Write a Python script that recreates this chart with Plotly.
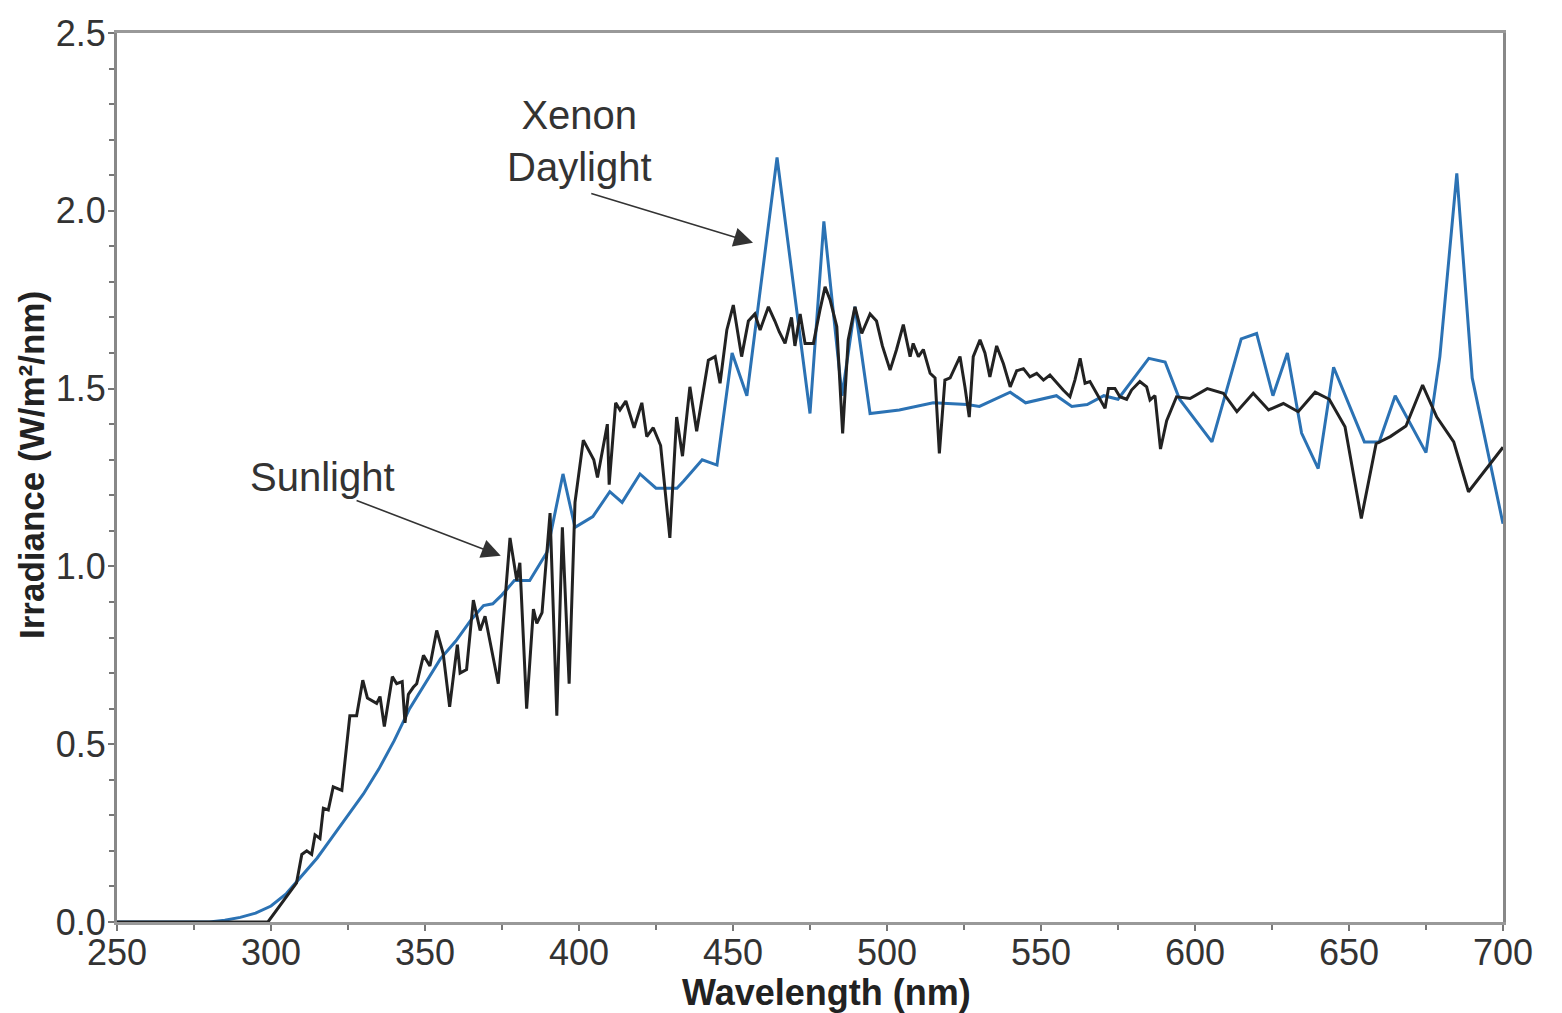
import plotly.graph_objects as go

# Sunlight spectrum (black)
sun_wl = [250, 299, 308.3, 310, 311.6, 313.2, 314.3, 315.9, 317, 318.6, 320.2, 323, 325.6, 327.8,
          329.8, 331.3, 334.3, 335.4, 336.8, 339.4, 340.8, 342.6, 343.5, 344.6, 346.2, 347.3, 349.5,
          351.6, 353.8, 355.9, 358, 360.5, 361.4, 363.5, 365.7, 367.9, 369.5, 373.8, 377.6, 379.8,
          380.8, 383, 385.2, 386.3, 388, 390.6, 392.8, 394.6, 396.8, 398.7, 401.4, 404.8, 406,
          409.2, 409.8, 411.9, 413.3, 415.2, 417.9, 420.4, 422, 424.1, 426.5, 429.5, 431.7, 433.6,
          436, 438.2, 442, 444.2, 445.8, 448, 450.1, 452.8, 455, 457.1, 458.8, 461.5, 463.6, 465,
          466.9, 469, 470.1, 471.8, 473.4, 476.1, 478.2, 479.9, 481.5, 483.7, 485.6, 487.4, 489.6,
          491.8, 494.5, 496.6, 498.5, 501, 503.1, 505.3, 507.5, 508.5, 510.2, 511.8, 514, 515.6,
          517, 518.8, 520.5, 522.1, 523.7, 525.3, 526.7, 528, 530.2, 531.8, 533.4, 535.6, 537.8,
          540, 542.1, 544.3, 546.4, 548.6, 550.8, 552.9, 555.1, 557.2, 559.4, 561, 562.7, 564.3,
          565.9, 568.1, 570.8, 571.9, 574, 575.6, 577.8, 579.4, 582.1, 584.3, 585.4, 587, 588.8,
          590.8, 594, 598.4, 604, 609.2, 613.6, 618.9, 623.9, 628.7, 633.5, 639, 643.6, 648.7,
          654, 658.8, 663.4, 668.5, 673.9, 678.5, 684, 688.8, 694.2, 700]
sun_irr = [0.0, 0.0, 0.11, 0.19, 0.20, 0.19, 0.245, 0.235, 0.32, 0.315, 0.38, 0.37, 0.58, 0.58,
           0.68, 0.63, 0.615, 0.634, 0.55, 0.69, 0.67, 0.676, 0.56, 0.64, 0.66, 0.67, 0.75,
           0.72, 0.82, 0.755, 0.605, 0.78, 0.70, 0.71, 0.905, 0.82, 0.86, 0.67, 1.08, 0.96,
           1.01, 0.60, 0.88, 0.84, 0.87, 1.15, 0.58, 1.11, 0.67, 1.18, 1.355, 1.30, 1.25,
           1.40, 1.23, 1.46, 1.44, 1.465, 1.39, 1.46, 1.365, 1.39, 1.34, 1.08, 1.42, 1.31,
           1.505, 1.38, 1.58, 1.59, 1.515, 1.665, 1.735, 1.59, 1.69, 1.71, 1.665, 1.73, 1.69, 1.66,
           1.627, 1.70, 1.62, 1.71, 1.627, 1.627, 1.72, 1.786, 1.75, 1.675, 1.374, 1.637, 1.73,
           1.655, 1.71, 1.69, 1.62, 1.552, 1.61, 1.68, 1.59, 1.627, 1.59, 1.61, 1.543, 1.53,
           1.318, 1.524, 1.53, 1.56, 1.59, 1.505, 1.42, 1.59, 1.637, 1.60, 1.533, 1.62, 1.57,
           1.505, 1.55, 1.556, 1.533, 1.543, 1.524, 1.538, 1.515, 1.496, 1.477, 1.524, 1.585, 1.515,
           1.52, 1.487, 1.445, 1.50, 1.50, 1.477, 1.47, 1.496, 1.52, 1.505, 1.468, 1.48, 1.33,
           1.41, 1.477, 1.472, 1.50, 1.487, 1.435, 1.487, 1.44, 1.458, 1.435, 1.49, 1.47, 1.393,
           1.135, 1.345, 1.365, 1.395, 1.51, 1.42, 1.35, 1.21, 1.27, 1.335]

# Xenon daylight-filtered spectrum (blue)
xe_wl = [250, 280, 285, 290, 295, 300, 305, 310, 315, 320, 325, 330, 335, 340, 345, 350, 355, 360,
         365, 369, 372, 375, 379, 384, 389.6, 394.8, 398.7, 404.5, 410, 414, 419.8, 425, 431.8,
         434, 440, 444.8, 449.7, 454.5, 464.3, 475, 479.5, 485.4, 489.6, 494.5, 504, 515, 526,
         530, 535, 540, 545, 555, 560, 565, 570.4, 575, 585, 590.3, 595, 605.5, 615, 620, 625.3,
         630, 634.6, 640, 645, 655, 659.8, 665, 675, 679.5, 685, 690, 700]
xe_irr = [0.0, 0.0, 0.005, 0.013, 0.025, 0.045, 0.08, 0.13, 0.18, 0.24, 0.30, 0.36, 0.43, 0.51,
          0.60, 0.67, 0.74, 0.79, 0.85, 0.89, 0.895, 0.92, 0.96, 0.96, 1.04, 1.26, 1.11, 1.14,
          1.21, 1.18, 1.26, 1.22, 1.22, 1.24, 1.30, 1.285, 1.60, 1.48, 2.15, 1.43, 1.97, 1.48,
          1.73, 1.43, 1.44, 1.46, 1.455, 1.45, 1.47, 1.49, 1.46, 1.48, 1.45, 1.455, 1.48, 1.47,
          1.585, 1.575, 1.47, 1.35, 1.64, 1.655, 1.48, 1.60, 1.375, 1.275, 1.56, 1.35, 1.35,
          1.48, 1.32, 1.59, 2.105, 1.53, 1.12]

x_ticks = [250, 300, 350, 400, 450, 500, 550, 600, 650, 700]
y_ticks = [0.0, 0.5, 1.0, 1.5, 2.0, 2.5]

FONT = "Liberation Sans, Arial, sans-serif"
TXT = "#333333"

fig = go.Figure()
fig.add_trace(go.Scatter(x=xe_wl, y=xe_irr, mode="lines", name="Xenon Daylight",
                         line=dict(color="#2b72b4", width=3)))
fig.add_trace(go.Scatter(x=sun_wl, y=sun_irr, mode="lines", name="Sunlight",
                         line=dict(color="#222222", width=3)))

fig.update_layout(
    width=1562, height=1013,
    margin=dict(l=109, r=67, t=25, b=99, autoexpand=False),
    paper_bgcolor="white", plot_bgcolor="white",
    showlegend=False,
    font=dict(family=FONT, color=TXT, size=34),
)
fig.update_xaxes(
    range=[250, 700], tickvals=x_ticks, ticks="outside", ticklen=6, tickwidth=1.5,
    tickcolor="#777777", showline=True, linecolor="#999999", linewidth=3, mirror=True,
    showgrid=False, zeroline=False, tickfont=dict(size=36, color=TXT), automargin=False,
    ticklabelstandoff=-9,
    minor=dict(dtick=25, ticks="outside", ticklen=5, tickwidth=1.5, tickcolor="#777777"),
)
fig.update_yaxes(
    range=[0, 2.5], tickvals=y_ticks, tickformat=".1f", ticks="outside", ticklen=6,
    tickwidth=1.5, tickcolor="#777777", showline=True, linecolor="#888888", linewidth=3,
    mirror=True, showgrid=False, zeroline=False, tickfont=dict(size=36, color=TXT),
    automargin=False, ticklabelstandoff=-5,
    minor=dict(dtick=0.1, ticks="outside", ticklen=5, tickwidth=1.5, tickcolor="#777777"),
)

# axis titles
fig.add_annotation(x=0.512, y=0, xref="paper", yref="paper", yshift=-70, yanchor="middle",
                   xanchor="center", text="<b>Wavelength (nm)</b>", showarrow=False,
                   font=dict(size=36, color="#222222"))
fig.add_annotation(x=0, y=0.514, xref="paper", yref="paper", xshift=-86, xanchor="center",
                   yanchor="middle", textangle=-90, text="<b>Irradiance (W/m²/nm)</b>",
                   showarrow=False, font=dict(size=35, color="#222222"))

# text labels
fig.add_annotation(x=400, y=2.196, xref="x", yref="y", text="Xenon<br>Daylight",
                   showarrow=False, font=dict(size=40, color=TXT), align="center")
fig.add_annotation(x=316.6, y=1.251, xref="x", yref="y", text="Sunlight",
                   showarrow=False, font=dict(size=40, color=TXT), align="center")
# arrows
fig.add_annotation(x=456.5, y=1.91, ax=403.5, ay=2.05, xref="x", yref="y", axref="x", ayref="y",
                   text="", showarrow=True, arrowhead=2, arrowsize=2.4, arrowwidth=1.6,
                   arrowcolor="#333333", standoff=0, startstandoff=0)
fig.add_annotation(x=374.6, y=1.03, ax=327.3, ay=1.187, xref="x", yref="y", axref="x", ayref="y",
                   text="", showarrow=True, arrowhead=2, arrowsize=2.4, arrowwidth=1.6,
                   arrowcolor="#333333", standoff=0, startstandoff=0)

fig.write_html("out.html")
